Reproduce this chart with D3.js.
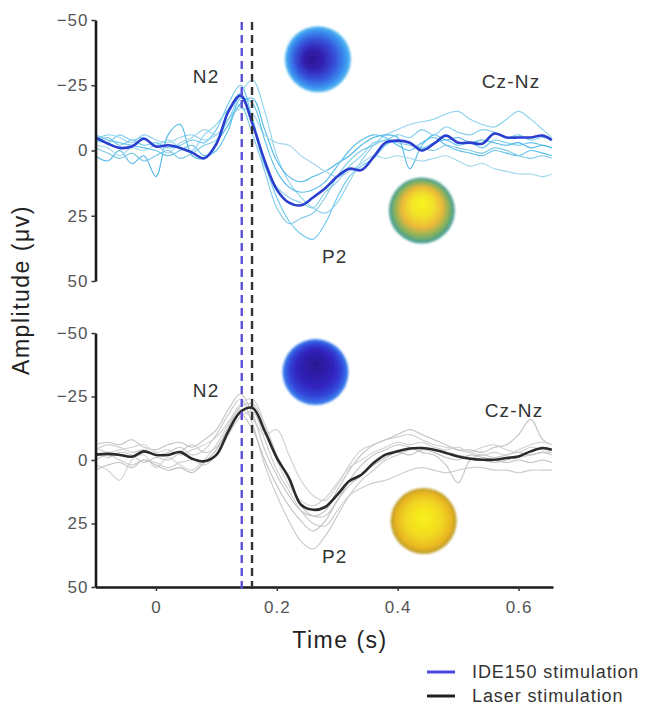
<!DOCTYPE html>
<html>
<head>
<meta charset="UTF-8">
<title>N2-P2 evoked potentials</title>
<style>
  * { margin: 0; padding: 0; }
  body { background: #fff; overflow: hidden; }
</style>
<script src="https://d3js.org/d3.v7.min.js"></script>
</head>
<body>
<script>
// time grid (s)
const times = [-0.10, -0.08, -0.06, -0.04, -0.02, 0.00, 0.02, 0.04, 0.06, 0.08,
  0.10, 0.12, 0.14, 0.16, 0.18, 0.20, 0.22, 0.24, 0.26, 0.28,
  0.30, 0.32, 0.34, 0.36, 0.38, 0.40, 0.42, 0.44, 0.46, 0.48,
  0.50, 0.52, 0.54, 0.56, 0.58, 0.60, 0.62, 0.64, 0.655];

// IDE150 stimulation: grand average + single subjects (µV)
const ideMean = [-5, -2.7, -1, -1.5, -4.5, -1.5, -2, -1, 0.8, 3,
  -2.5, -15, -21, -10, 4, 15, 20, 21, 18, 14.5,
  10, 7, 7.5, 2.5, -3, -3.8, -3, 0, -2.6, -5.7,
  -3, -3, -2.6, -6.5, -5, -5, -5, -5.7, -4];
const ideS1 = [-3, -5, -2, -4, -2, -3, -1, -2, -4, -3, -8, -18, -25, -12, 5, 18, 27, 32, 34, 28, 18, 10, 6, 3, -2, -4, -3, -1, -3, -4, -2, -3, -1, -4, -3, -2, -3, -2, -1];
const ideS2 = [-4, -6, -5, -3, -6, -4, -3, -5, -6, -4, -6, -12, -22, -27, -15, 2, 12, 18, 22, 24, 20, 12, 4, -2, -6, -8, -10, -11, -12, -14, -15, -12, -10, -9, -12, -15, -12, -8, -5];
const ideS3 = [2, 4, 0, 5, 2, 10, -6, -10, 2, 3, -3, -10, -18, -20, -8, 4, 10, 12, 10, 8, 5, 2, -2, -5, -6, -5, 7, -2, -6, -4, -5, -3, -4, -3, -2, -3, -1, -2, -1];
const ideS4 = [-2, -1, 2, -1, 0, -2, 1, -3, -5, -8, -6, -12, -16, -14, -6, -3, -2, 2, 5, 8, 10, 8, 5, 2, 3, 2, 3, 4, 3, 2, 4, 6, 5, 7, 8, 9, 9, 10, 9];
const ideS5 = [-6, -4, -3, -2, -1, 0, 2, 0, -2, 2, 0, -8, -20, -18, -4, 8, 14, 16, 15, 12, 6, 0, -4, -6, -5, -2, 0, -3, -5, -2, 0, 1, 2, 0, 1, 2, 0, 1, 2];
const ideS6 = [-4, -3, -6, -4, -5, -2, -4, -1, 0, -6, -10, -16, -22, -10, 6, 14, 18, 20, 22, 16, 12, 6, 2, -3, -4, -6, -5, -8, -6, -9, -7, -6, -8, -7, -5, -6, -4, -5, -4];
const ideS7 = [-1, 1, 3, 1, 4, 2, 0, 3, 1, -2, -4, -12, -17, -6, 8, 22, 28, 26, 24, 18, 10, 4, 0, -2, -4, -3, -2, -1, 0, -2, -1, 0, 1, -1, 0, 2, 3, 2, 3];

// Laser stimulation: grand average + single subjects (µV)
const laserMean = [-2.1, -2.4, -2, -1.3, -3.4, -2, -2, -3.1, -0.5, 0.5,
  -2, -11.4, -19, -20.5, -11.4, -0.8, 7, 17.6, 19.6, 18.5,
  13.7, 8.3, 5.8, 1.2, -2.1, -3.4, -4.5, -4.7, -4, -2.8,
  -1.4, -0.5, -0.1, -0.1, -0.8, -1.4, -3.4, -4.7, -4];
const laserS1 = [-4, -6, -5, -3, -4, -2, -3, -5, -2, -4, -10, -18, -24, -14, 2, 14, 24, 32, 35, 30, 22, 14, 8, 4, 0, -2, -4, -5, -4, -3, -2, -1, 0, 1, 0, -1, -2, -3, -3];
const laserS2 = [2, 4, 8, 0, -2, 3, -1, 2, 4, 0, -6, -14, -20, -16, -10, -12, -2, 8, 14, 16, 10, 2, -4, -6, -8, -9, -10, -8, -6, -5, -4, -3, -5, -6, -4, -3, -5, -4, -4];
const laserS3 = [-6, -7, -6, -8, -5, -4, -6, -7, -5, -8, -12, -20, -26, -18, -4, 6, 14, 20, 22, 20, 12, 4, -2, -6, -8, -10, -12, -10, -8, -6, -4, -4, -3, -5, -6, -10, -16, -8, -6];
const laserS4 = [0, -2, 0, 2, 0, 1, 3, 1, 0, 2, -2, -10, -17, -19, -8, 4, 12, 20, 25, 26, 20, 14, 11, 9, 8, 6, 4, 3, 4, 5, 4, 3, 3, 4, 4, 5, 4, 4, 4];
const laserS5 = [-3, -1, -3, -2, 1, -1, 0, -3, -6, -3, -5, -13, -21, -22, -14, -2, 8, 18, 22, 22, 16, 8, 2, -2, -4, -6, -5, -3, -2, 2, 9, 0, -2, -1, -2, -3, -2, -3, -2];
const laserS6 = [-5, -3, -4, -5, -6, -3, -4, -2, -4, -6, -9, -15, -22, -24, -14, 0, 10, 16, 18, 15, 9, 3, 0, -3, -5, -7, -6, -7, -5, -4, -5, -3, -2, -3, -2, -4, -6, -7, -6];
const laserS7 = [4, 2, 1, 3, 0, 2, 4, 3, 5, 1, -4, -12, -18, -12, 0, 10, 18, 24, 28, 24, 16, 10, 6, 2, -1, -3, -2, -4, -3, -1, 0, -2, -1, 0, 1, 0, 1, 0, 1];

const yTicks = [-50, -25, 0, 25, 50];
const xTicks = [0, 0.2, 0.4, 0.6];
const onsets = [0.142, 0.159];           // N2 latency markers (IDE150, laser)
const legendLabels = ["IDE150 stimulation", "Laser stimulation"];

const FONT = '"Liberation Sans", Arial, sans-serif';

const svg = d3.select("body").append("svg")
  .attr("width", 645)
  .attr("height", 707)
  .style("background", "#fff");

const x = d3.scaleLinear().domain([-0.1, 0.657]).range([95.5, 553]);
const yTop = d3.scaleLinear().domain([-50, 50]).range([20, 281]);
const yBot = d3.scaleLinear().domain([-50, 50]).range([333, 587]);

// topographic maps as radial gradients
const defs = svg.append("defs");
const grad = (id, fx, fy, stops) => {
  const g = defs.append("radialGradient").attr("id", id)
    .attr("cx", 0.5).attr("cy", 0.5).attr("r", 0.5).attr("fx", fx).attr("fy", fy);
  stops.forEach(s => g.append("stop").attr("offset", s[0]).attr("stop-color", s[1]));
};
grad("topoN2a", 0.4, 0.5, [[0, "#2a1690"], [0.3, "#3320b0"], [0.6, "#3550d8"], [0.85, "#3a8ff0"], [1, "#55bdf0"]]);
grad("topoP2a", 0.5, 0.38, [[0, "#f8f41c"], [0.35, "#f2e22a"], [0.62, "#ecb83a"], [0.82, "#8ab25a"], [1, "#3c9c9c"]]);
grad("topoN2b", 0.5, 0.36, [[0, "#2a1890"], [0.55, "#3022bc"], [0.8, "#3344d8"], [1, "#3a86f0"]]);
grad("topoP2b", 0.5, 0.45, [[0, "#f6f21e"], [0.55, "#f2d820"], [0.85, "#e8b420"], [1, "#b89a2a"]]);
defs.append("filter").attr("id", "soft")
  .append("feGaussianBlur").attr("stdDeviation", 0.8);

const line = (y) => d3.line()
  .x((d, i) => x(times[i]))
  .y(d => y(d))
  .curve(d3.curveCatmullRom.alpha(0.5));

const drawPanel = (y, trials, mean, trialColors, meanColor, maps, labels) => {
  const g = svg.append("g");

  // topographies
  g.selectAll(".topo")
    .data(maps)
    .join("circle")
    .attr("class", "topo")
    .attr("cx", d => x(d.t))
    .attr("cy", d => y(d.a))
    .attr("r", 33)
    .attr("fill", d => `url(#${d.id})`)
    .attr("filter", "url(#soft)");

  g.selectAll(".trial")
    .data(trials)
    .join("path")
    .attr("class", "trial")
    .attr("d", line(y))
    .attr("fill", "none")
    .attr("stroke", (d, i) => trialColors[i % trialColors.length])
    .attr("stroke-width", 1.1);

  g.append("path")
    .datum(mean)
    .attr("d", line(y))
    .attr("fill", "none")
    .attr("stroke", meanColor)
    .attr("stroke-width", 2.6)
    .attr("stroke-linejoin", "round");

  const ga = g.append("g")
    .attr("transform", `translate(${x(-0.1)},0)`)
    .call(d3.axisLeft(y).tickValues(yTicks).tickSize(4).tickSizeOuter(0).tickPadding(3).tickFormat(d3.format("d")));
  ga.select(".domain").attr("stroke", "#1a1a1a").attr("stroke-width", 2.6);
  ga.selectAll(".tick line").attr("stroke", "#333").attr("stroke-width", 1.5);
  ga.selectAll(".tick text")
    .attr("font-family", FONT).attr("font-size", 17).attr("fill", "#555")
    .style("letter-spacing", "1px");

  g.selectAll(".lab")
    .data(labels)
    .join("text")
    .attr("class", "lab")
    .attr("x", d => x(d.t))
    .attr("y", d => y(d.a))
    .attr("text-anchor", d => d.anchor)
    .attr("font-family", FONT)
    .attr("font-size", 19)
    .attr("fill", "#333")
    .style("letter-spacing", "1.2px")
    .text(d => d.text);
  return g;
};

drawPanel(yTop,
  [ideS1, ideS2, ideS3, ideS4, ideS5, ideS6, ideS7], ideMean,
  ["#6cc8ee", "#8fd3ef", "#4fb8e8", "#a2d6ec", "#5cc0ea", "#86cfee", "#7dc9e6"], "#2a3fcf",
  [{ id: "topoN2a", t: 0.268, a: -35 }, { id: "topoP2a", t: 0.44, a: 23 }],
  [{ text: "N2", t: 0.083, a: -25.9, anchor: "middle" },
   { text: "Cz-Nz", t: 0.539, a: -24, anchor: "start" },
   { text: "P2", t: 0.296, a: 43, anchor: "middle" }]);

const bottom = drawPanel(yBot,
  [laserS1, laserS2, laserS3, laserS4, laserS5, laserS6, laserS7], laserMean,
  ["#c8c8c8", "#d0d0d0", "#c2c2c2", "#cccccc", "#c6c6c6", "#d2d2d2", "#bfbfbf"], "#2b2b2b",
  [{ id: "topoN2b", t: 0.264, a: -34.6 }, { id: "topoP2b", t: 0.443, a: 24 }],
  [{ text: "N2", t: 0.083, a: -24.8, anchor: "middle" },
   { text: "Cz-Nz", t: 0.544, a: -16.9, anchor: "start" },
   { text: "P2", t: 0.296, a: 40.5, anchor: "middle" }]);

const gx = bottom.append("g")
  .attr("transform", `translate(0,${yBot(50)})`)
  .call(d3.axisBottom(x).tickValues(xTicks).tickSize(4).tickSizeOuter(0).tickPadding(10)
    .tickFormat(d => d === 0 ? "0" : d3.format(".1f")(d)));
gx.select(".domain").attr("stroke", "#1a1a1a").attr("stroke-width", 2.6);
gx.selectAll(".tick line").attr("stroke", "#333").attr("stroke-width", 1.5);
gx.selectAll(".tick text")
  .attr("font-family", FONT).attr("font-size", 17).attr("fill", "#555")
  .style("letter-spacing", "1px");

// latency markers
svg.selectAll(".onset")
  .data(onsets)
  .join("line")
  .attr("class", "onset")
  .attr("x1", d => x(d)).attr("x2", d => x(d))
  .attr("y1", 22).attr("y2", 590)
  .attr("stroke", (d, i) => i === 0 ? "#5a50d8" : "#333")
  .attr("stroke-width", 2.4)
  .attr("stroke-dasharray", "8,5");

// axis titles
svg.append("text")
  .attr("transform", "translate(29,290) rotate(-90)")
  .attr("text-anchor", "middle")
  .attr("font-family", FONT).attr("font-size", 23).attr("fill", "#222")
  .style("letter-spacing", "1.5px")
  .text("Amplitude (\u03bcv)");

svg.append("text")
  .attr("x", 340).attr("y", 648)
  .attr("text-anchor", "middle")
  .attr("font-family", FONT).attr("font-size", 23).attr("fill", "#222")
  .style("letter-spacing", "1.5px")
  .text("Time (s)");

// legend
const leg = svg.append("g").attr("transform", "translate(427,672)");
const legItem = leg.selectAll("g")
  .data(legendLabels)
  .join("g")
  .attr("transform", (d, i) => `translate(0,${i * 24})`);
legItem.append("line")
  .attr("x1", 0).attr("x2", 28)
  .attr("stroke", (d, i) => i === 0 ? "#4b48e0" : "#222")
  .attr("stroke-width", 3);
legItem.append("text")
  .attr("x", 45).attr("y", 6)
  .attr("font-family", FONT).attr("font-size", 18).attr("fill", "#333")
  .style("letter-spacing", "0.9px")
  .text(d => d);
</script>
</body>
</html>
